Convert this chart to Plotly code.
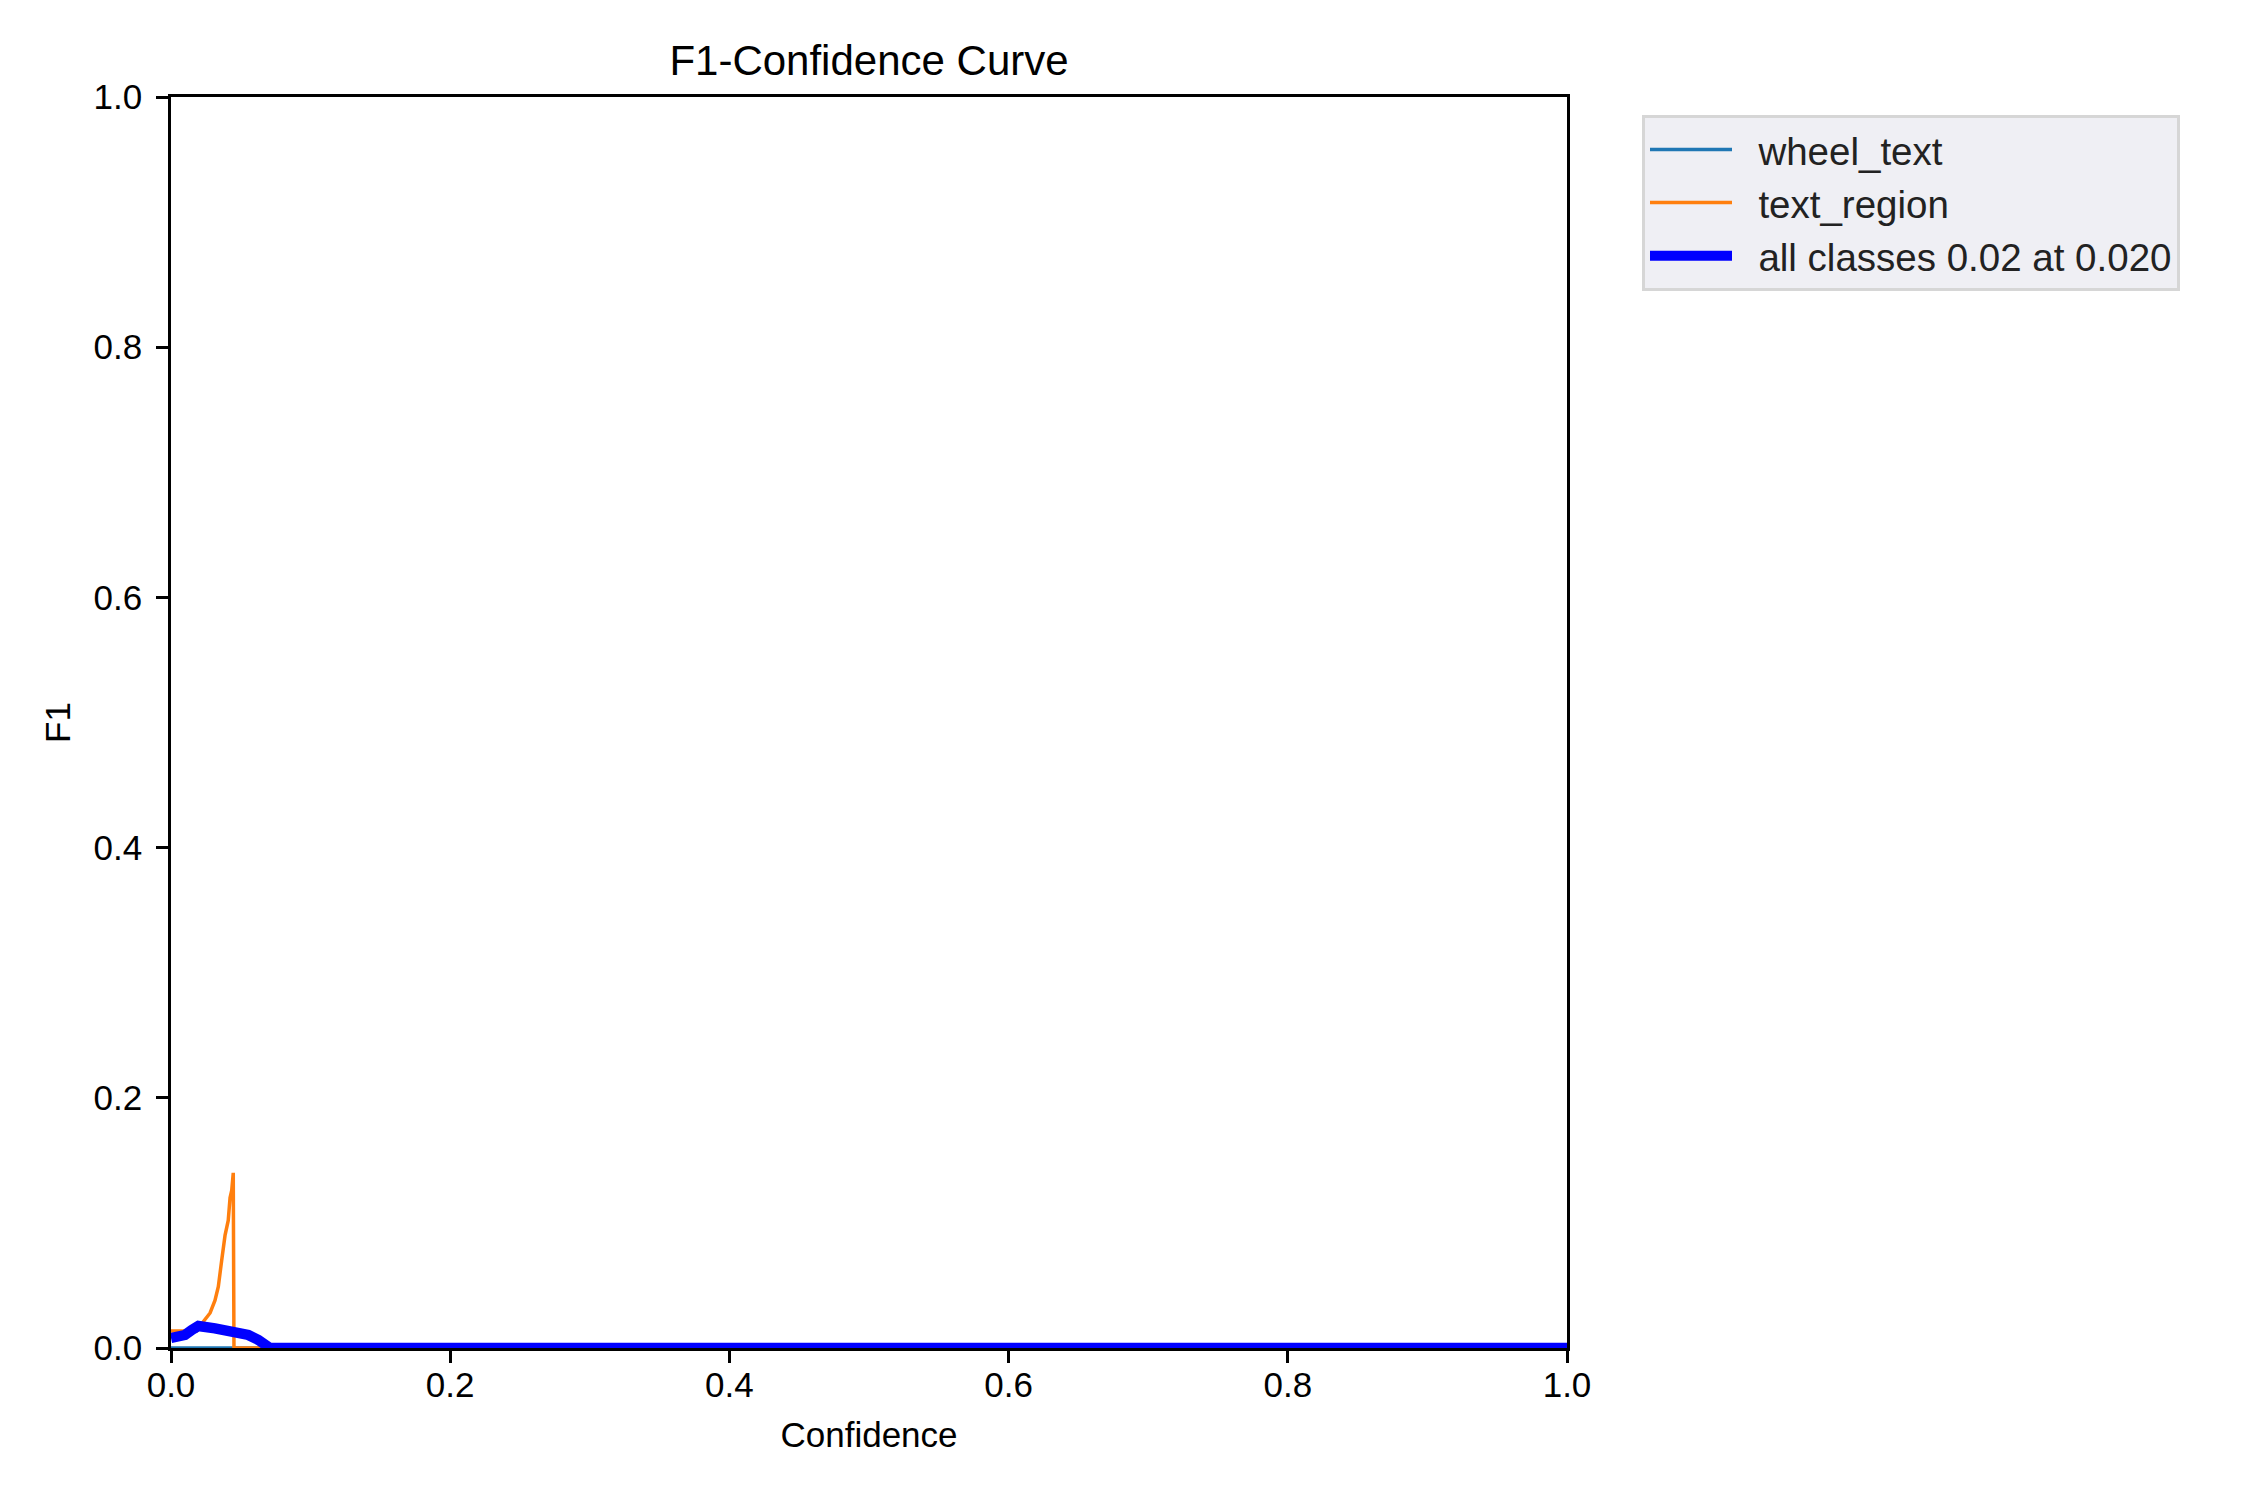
import plotly.graph_objects as go

# ---- data ----
conf_wheel = [0.0, 1.0]
f1_wheel = [0.0, 0.0]

conf_region = [0.0, 0.0184, 0.0231, 0.028, 0.0315, 0.0339, 0.0363, 0.0387, 0.041,
               0.0423, 0.0435, 0.0446, 0.0451, 1.0]
f1_region = [0.0136, 0.0136, 0.021, 0.028, 0.038, 0.049, 0.070, 0.090, 0.102,
             0.120, 0.126, 0.140, 0.0, 0.0]

conf_all = [0.0, 0.005, 0.010, 0.0148, 0.0196, 0.0315, 0.0411, 0.050, 0.0554,
            0.0626, 0.0673, 0.0709, 1.0]
f1_all = [0.008, 0.0088, 0.0104, 0.0144, 0.0176, 0.0157, 0.0138, 0.0120, 0.0104,
          0.0064, 0.0032, 0.0, 0.0]

names = ["wheel_text", "text_region", "all classes 0.02 at 0.020"]
tick_vals = [0.0, 0.2, 0.4, 0.6, 0.8, 1.0]
tick_text = ["0.0", "0.2", "0.4", "0.6", "0.8", "1.0"]

FONT = "Liberation Sans, Arial, Helvetica, sans-serif"
PAD = "\u00a0\u00a0"  # small gap between legend line sample and label

# page body adds an 8px offset; margins compensate
ML, MR, MT, MB = 163, 691, 89, 160

fig = go.Figure()
fig.add_trace(go.Scatter(x=conf_wheel, y=f1_wheel, mode="lines", name=PAD + names[0],
                         line=dict(color="#1f77b4", width=3.5)))
fig.add_trace(go.Scatter(x=conf_region, y=f1_region, mode="lines", name=PAD + names[1],
                         line=dict(color="#ff7f0e", width=3.5)))
fig.add_trace(go.Scatter(x=conf_all, y=f1_all, mode="lines", name=PAD + names[2],
                         line=dict(color="#0000ff", width=10.4)))

axis_common = dict(
    range=[0, 1], tickvals=tick_vals, ticktext=tick_text,
    showline=True, linecolor="black", linewidth=2.8, mirror=True,
    ticks="outside", ticklen=12, tickwidth=2.8, tickcolor="black",
    showgrid=False, zeroline=False,
    tickfont=dict(family=FONT, size=35, color="black"),
    title_font=dict(family=FONT, size=35, color="black"),
)

fig.update_layout(
    width=2250, height=1500,
    paper_bgcolor="white", plot_bgcolor="white",
    margin=dict(l=ML, r=MR, t=MT, b=MB, autoexpand=False),
    font=dict(family=FONT, size=35, color="black"),
    title=dict(text="F1-Confidence Curve", x=(ML + 2250 - MR) / 2 / 2250, xanchor="center",
               y=1 - 52 / 1500, yanchor="middle",
               font=dict(family=FONT, size=42, color="black")),
    xaxis=dict(axis_common, ticklabelstandoff=-8, title=dict(text="Confidence", standoff=20)),
    yaxis=dict(axis_common, ticklabelstandoff=7, title=dict(text="F1", standoff=13)),
    legend=dict(x=(1642 - 171) / 1396, y=(1348 - 115) / 1251, xanchor="left", yanchor="top",
                bgcolor="rgb(239,239,244)", bordercolor="rgb(214,214,214)", borderwidth=3,
                font=dict(family=FONT, size=38.5, color="#222222"), itemwidth=82),
    showlegend=True,
)

fig.write_html("out.html")
